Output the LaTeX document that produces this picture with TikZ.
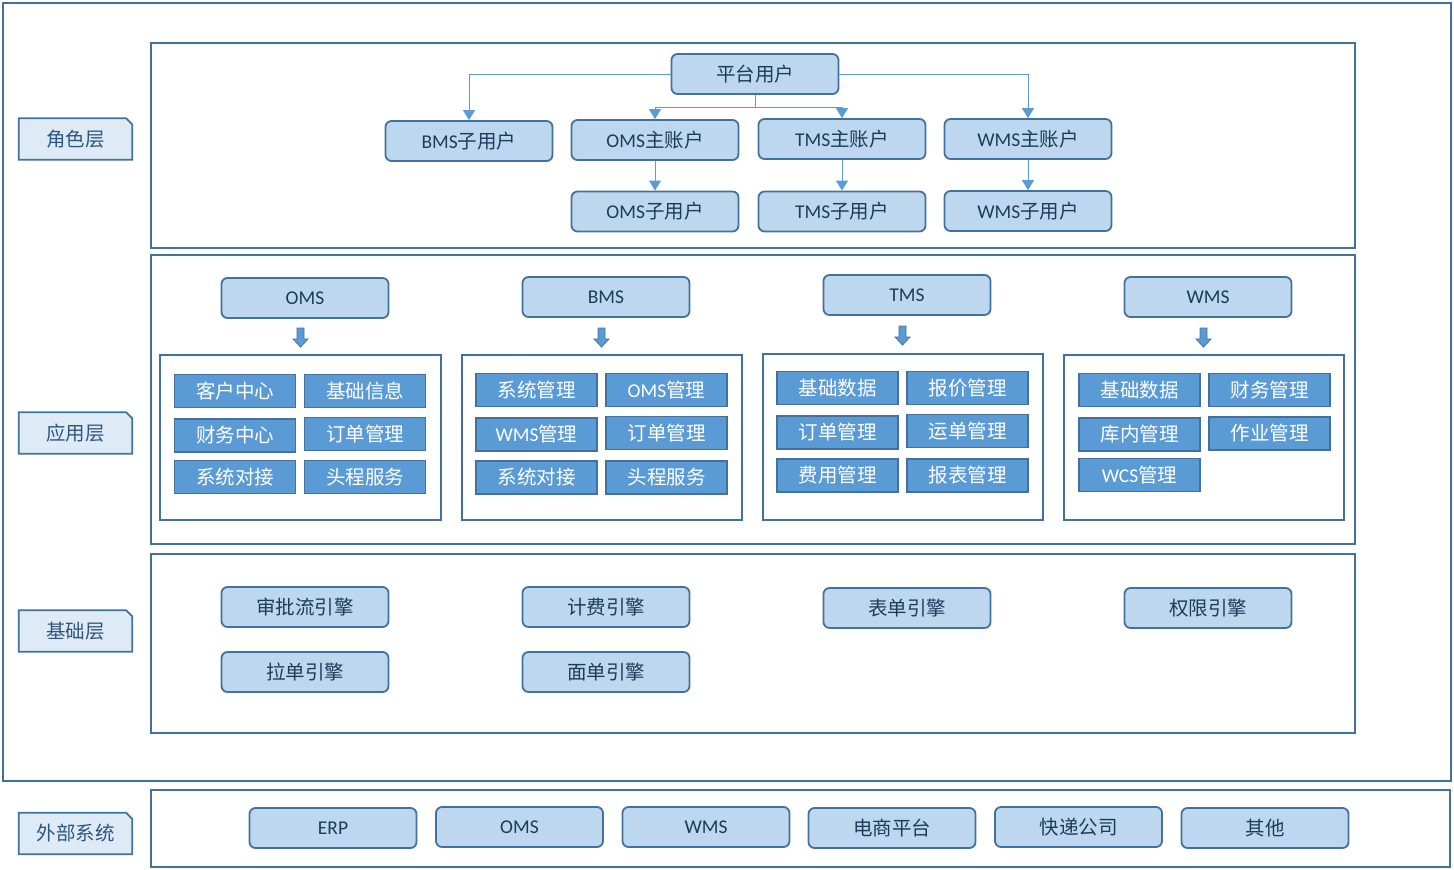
\documentclass[tikz,border=0pt]{standalone}
\usepackage{fontspec}
\setmainfont{Noto Sans CJK SC}
\newfontfamily\lat{Carlito}
\usetikzlibrary{arrows.meta}
\pgfdeclarelayer{bg}\pgfsetlayers{bg,main}
\definecolor{dk}{HTML}{41719C}
\definecolor{lt}{HTML}{BDD7EE}
\definecolor{md}{HTML}{5B9BD5}
\definecolor{pl}{HTML}{DEEBF7}
\definecolor{tx}{HTML}{1F3B5C}
\definecolor{lx}{HTML}{2E5580}
\tikzset{
  txt/.style={font=\fontsize{19.5}{22}\selectfont},
  rnode/.style={txt, draw=dk, line width=1.8pt, fill=lt, rounded corners=6pt, minimum width=167pt, minimum height=40pt, inner sep=0pt, text=tx},
  cell/.style={txt, draw=dk, line width=1.8pt, fill=md, minimum width=121pt, minimum height=33pt, inner sep=0pt, text=white},
  panel/.style={draw=dk, line width=1.8pt},
  lbl/.style={txt, minimum width=113pt, minimum height=41pt, inner sep=0pt, text=lx},
  conn/.style={draw=md, line width=1pt, -{Triangle[length=10pt,width=12pt]}},
  blockarr/.pic={\filldraw[draw=dk, fill=md, line width=0.8pt] (0,0) -- (-7.5,-8) -- (-3.5,-8) -- (-3.5,-19) -- (3.5,-19) -- (3.5,-8) -- (7.5,-8) -- cycle;}
}
\begin{document}
\begin{tikzpicture}[x=1pt,y=-1pt]
\useasboundingbox (0,0) rectangle (1454,870);
% frames and panels
\draw[panel] (3,3) rectangle (1451,781);
\draw[panel] (151,43) rectangle (1355,248);
\draw[panel] (151,255) rectangle (1355,544);
\draw[panel] (151,554) rectangle (1355,733);
\draw[panel] (151,790) rectangle (1450,867);
% left labels
\node[lbl] (l1) at (75.5,139) {角色层};
\node[lbl] (l2) at (75.5,433) {应用层};
\node[lbl] (l3) at (75.5,631) {基础层};
\node[lbl] (l4) at (75.5,833.5) {外部系统};
\begin{pgfonlayer}{bg}
\foreach \n in {l1,l2,l3,l4}
  \filldraw[fill=pl, draw=dk, line width=1.8pt] (\n.south west) -- (\n.north west) -- ([xshift=-6pt]\n.north east) -- ([yshift=-6pt]\n.north east) -- (\n.south east) -- cycle;
\end{pgfonlayer}
% role layer
\node[rnode] (pt) at (755,74) {平台用户};
\node[rnode] (bmsu) at (469,141) {{\lat BMS}子用户};
\node[rnode] (omsm) at (655,140) {{\lat OMS}主账户};
\node[rnode] (tmsm) at (842,139) {{\lat TMS}主账户};
\node[rnode] (wmsm) at (1028,139) {{\lat WMS}主账户};
\node[rnode] (omsu) at (655,211.5) {{\lat OMS}子用户};
\node[rnode] (tmsu) at (842,211.5) {{\lat TMS}子用户};
\node[rnode] (wmsu) at (1028,211) {{\lat WMS}子用户};
\draw[conn] (pt.west) -| (bmsu.north);
\draw[conn] (pt.east) -| (wmsm.north);
\draw[conn] (pt.south) -- ++(0,13) -| (omsm.north);
\draw[conn] (pt.south) -- ++(0,13) -| (tmsm.north);
\draw[conn] (omsm.south) -- (omsu.north);
\draw[conn] (tmsm.south) -- (tmsu.north);
\draw[conn] (wmsm.south) -- (wmsu.north);
% application layer
\node[rnode] (homs) at (305,298) {\lat OMS};
\node[rnode] (hbms) at (606,297) {\lat BMS};
\node[rnode] (htms) at (907,295) {\lat TMS};
\node[rnode] (hwms) at (1208,297) {\lat WMS};
\draw[panel] (160,355) rectangle (441,520);
\draw[panel] (462,355) rectangle (742,520);
\draw[panel] (763,354) rectangle (1043,520);
\draw[panel] (1064,355) rectangle (1344,520);
\pic at (300.5,347) {blockarr};
\pic at (601.5,347) {blockarr};
\pic at (902.5,345) {blockarr};
\pic at (1203.5,347) {blockarr};
% OMS cells
\node[cell] (o1) at (235,391) {客户中心};
\node[cell] (o2) at (365,391) {基础信息};
\node[cell] (o3) at (235,435.5) {财务中心};
\node[cell] (o4) at (365,434) {订单管理};
\node[cell] (o5) at (235,477) {系统对接};
\node[cell] (o6) at (365,477) {头程服务};
% BMS cells
\node[cell] (b1) at (536.5,390) {系统管理};
\node[cell] (b2) at (666.5,390) {{\lat OMS}管理};
\node[cell] (b3) at (536.5,434.5) {{\lat WMS}管理};
\node[cell] (b4) at (666.5,433) {订单管理};
\node[cell] (b5) at (536.5,477.5) {系统对接};
\node[cell] (b6) at (666.5,477.5) {头程服务};
% TMS cells
\node[cell] (t1) at (837.5,388) {基础数据};
\node[cell] (t2) at (967.5,388) {报价管理};
\node[cell] (t3) at (837.5,432.5) {订单管理};
\node[cell] (t4) at (967.5,431) {运单管理};
\node[cell] (t5) at (837.5,475.5) {费用管理};
\node[cell] (t6) at (967.5,475.5) {报表管理};
% WMS cells
\node[cell] (w1) at (1139.5,390) {基础数据};
\node[cell] (w2) at (1269.5,390) {财务管理};
\node[cell] (w3) at (1139.5,434.5) {库内管理};
\node[cell] (w4) at (1269.5,433.5) {作业管理};
\node[cell] (w5) at (1139.5,475) {{\lat WCS}管理};
% base layer
\node[rnode] (e1) at (305,607) {审批流引擎};
\node[rnode] (e2) at (606,607) {计费引擎};
\node[rnode] (e3) at (907,608) {表单引擎};
\node[rnode] (e4) at (1208,608) {权限引擎};
\node[rnode] (e5) at (305,672) {拉单引擎};
\node[rnode] (e6) at (606,672) {面单引擎};
% external systems
\node[rnode] (x1) at (333,828) {\lat ERP};
\node[rnode] (x2) at (519.5,827) {\lat OMS};
\node[rnode] (x3) at (706,827) {\lat WMS};
\node[rnode] (x4) at (892,828) {电商平台};
\node[rnode] (x5) at (1078.5,827) {快递公司};
\node[rnode] (x6) at (1265,828) {其他};
\end{tikzpicture}
\end{document}
